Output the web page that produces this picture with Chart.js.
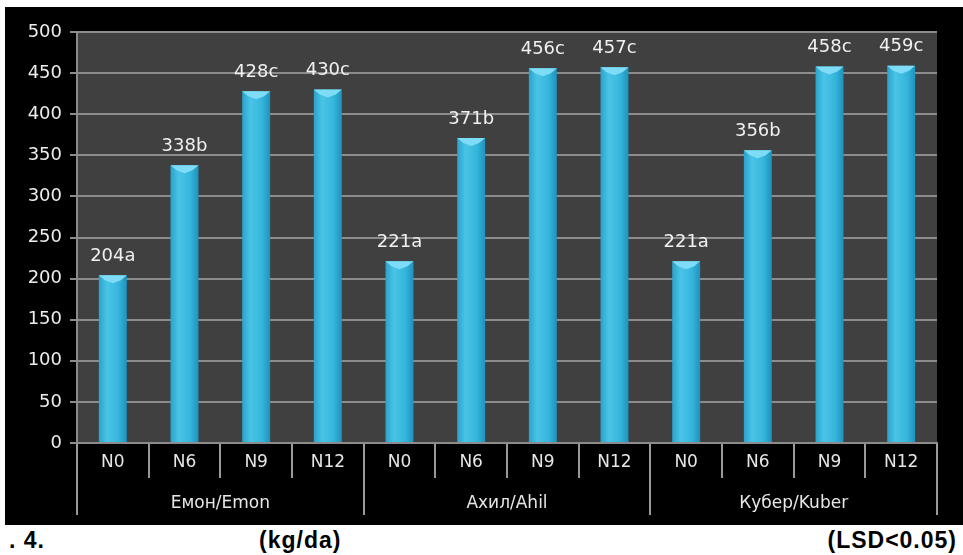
<!DOCTYPE html>
<html>
<head>
<meta charset="utf-8">
<script src="https://cdn.jsdelivr.net/npm/chart.js@4"></script>
<style>
  body { margin:0; background:#fff; width:963px; height:555px; overflow:hidden; font-family:"Liberation Sans", Arial, sans-serif; }
  #box { position:absolute; left:5px; top:7px; width:958px; height:518px; background:#000; }
  .cap { position:absolute; top:527px; font-weight:bold; font-size:23px; letter-spacing:1px; color:#000; }
</style>
</head>
<body>
<div id="box"><canvas id="myChart" width="958" height="518"></canvas></div>
<div class="cap" style="left:9px">. 4.</div>
<div class="cap" style="left:259px">(kg/da)</div>
<div class="cap" style="right:6px">(LSD&lt;0.05)</div>
<script>
const doses = ['N0','N6','N9','N12','N0','N6','N9','N12','N0','N6','N9','N12'];
const varieties = ['Емон/Emon','Ахил/Ahil','Кубер/Kuber'];
const yields = [204,338,428,430,221,371,456,457,221,356,458,459];
const letters = ['a','b','c','c','a','b','c','c','a','b','c','c'];
const yTicks = [0,50,100,150,200,250,300,350,400,450,500];

const fam = '"DejaVu Sans", Arial, sans-serif';

// bar gradient, left to right across each bar
function barFill(context){
  const chart = context.chart;
  const xs = chart.scales.x;
  if (!chart.chartArea || !xs) return '#34b5dc';
  const cx = xs.getPixelForValue(context.dataIndex);
  const w = 14;
  const g = chart.ctx.createLinearGradient(cx-w, 0, cx+w, 0);
  g.addColorStop(0,'#2aa3cc');
  g.addColorStop(0.3,'#4ac4e6');
  g.addColorStop(0.7,'#36b6dc');
  g.addColorStop(1,'#1e92bd');
  return g;
}

const plotBg = {
  id:'plotBg',
  beforeDraw(chart){
    const a = chart.chartArea, ctx = chart.ctx;
    ctx.save();
    ctx.fillStyle = '#404040';
    ctx.fillRect(a.left, a.top, a.right-a.left, a.bottom-a.top);
    ctx.restore();
  }
};

const barTops = {
  id:'barTops',
  afterDatasetsDraw(chart){
    const ctx = chart.ctx;
    const meta = chart.getDatasetMeta(0);
    ctx.save();
    meta.data.forEach((bar, i) => {
      const h = bar.width/2;
      // light bevel on top of bar
      ctx.fillStyle = '#7fdcf6';
      ctx.beginPath();
      ctx.moveTo(bar.x-h, bar.y);
      ctx.lineTo(bar.x+h, bar.y);
      ctx.lineTo(bar.x+h-6, bar.y+5);
      ctx.lineTo(bar.x, bar.y+8);
      ctx.lineTo(bar.x-h+6, bar.y+5);
      ctx.closePath();
      ctx.fill();
      // value label
      ctx.fillStyle = '#f0f0f0';
      ctx.font = '18px ' + fam;
      ctx.textAlign = 'center';
      ctx.textBaseline = 'bottom';
      ctx.fillText(yields[i] + letters[i], bar.x, bar.y - 10);
    });
    ctx.restore();
  }
};

const ctx = document.getElementById('myChart').getContext('2d');
const myChart = new Chart(ctx, {
  type:'bar',
  data:{
    labels: doses,
    datasets:[{
      data: yields,
      backgroundColor: barFill,
      borderWidth: 0,
      barPercentage: 0.39,
      categoryPercentage: 1
    }]
  },
  options:{
    responsive:false,
    animation:false,
    layout:{ padding:{ left:0, top:25, right:26, bottom:0 } },
    plugins:{ legend:{display:false}, tooltip:{enabled:false} },
    scales:{
      y:{
        min:0, max:500,
        afterFit: s => { s.width = 72; },
        afterBuildTicks: s => { s.ticks = yTicks.map(v => ({value:v})); },
        grid:{ color:'#8c8c8c', lineWidth:2, tickLength:7, tickColor:'#8c8c8c' },
        border:{ color:'#8c8c8c', width:2 },
        ticks:{ color:'#ececec', padding:8, font:{ size:18, family:fam } }
      },
      x:{
        afterFit: s => { s.height = 35; },
        grid:{ offset:true, drawOnChartArea:false, color:'#9a9a9a', lineWidth:2, tickLength:35 },
        border:{ color:'#8c8c8c', width:2 },
        ticks:{ color:'#e6e6e6', padding:-26, maxRotation:0, font:{ size:17, family:fam } }
      },
      x2:{
        type:'category',
        position:'bottom',
        labels: varieties,
        afterFit: s => { s.height = 47; },
        grid:{ offset:true, drawOnChartArea:false, color:'#9a9a9a', lineWidth:2, tickLength:37 },
        border:{ display:false },
        ticks:{ color:'#e6e6e6', padding:-22, maxRotation:0, font:{ size:17, family:fam } }
      }
    }
  },
  plugins:[plotBg, barTops]
});
</script>
</body>
</html>
